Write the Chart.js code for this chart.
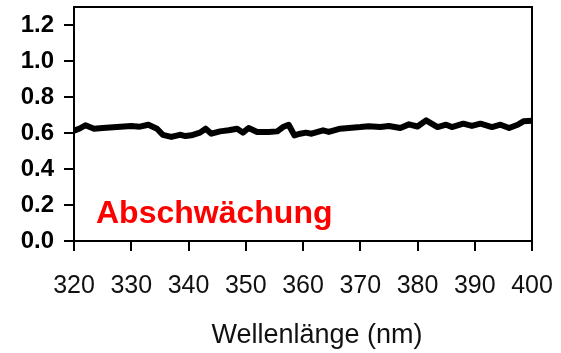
<!DOCTYPE html>
<html>
<head>
<meta charset="utf-8">
<script src="https://cdn.jsdelivr.net/npm/chart.js@4/dist/chart.umd.min.js"></script>
<style>
  html, body { margin: 0; padding: 0; background: #fff; }
  #wrap { width: 561px; height: 353px; }
</style>
</head>
<body>
<div id="wrap"><canvas id="absChart" width="561" height="353"></canvas></div>
<script>
// wavelength (nm) and attenuation
const wavelengths = [320, 321, 322, 323.5, 325, 327.5, 330, 331.5, 333, 334.5, 335.5, 337, 338.5, 339.5,
  340.5, 342, 343, 344, 345.5, 347, 348.5, 349.5, 350.5, 352, 354, 355.5, 356.5, 357.5, 358.5, 359.5,
  360.5, 361.5, 363.5, 364.5, 366.5, 368, 370, 371.5, 373.5, 375, 377, 378.5, 380, 381.5, 383.5, 385,
  386, 388, 389.5, 391, 393, 394.5, 396, 397.5, 398.5, 400];
const attenuation = [0.612, 0.625, 0.643, 0.624, 0.628, 0.633, 0.639, 0.635, 0.646, 0.624, 0.590, 0.578, 0.590, 0.583,
  0.587, 0.602, 0.624, 0.596, 0.609, 0.615, 0.624, 0.602, 0.628, 0.606, 0.606, 0.609, 0.633, 0.646, 0.587, 0.596,
  0.602, 0.596, 0.615, 0.606, 0.624, 0.628, 0.633, 0.638, 0.633, 0.639, 0.628, 0.648, 0.636, 0.670, 0.633, 0.646,
  0.633, 0.652, 0.639, 0.652, 0.633, 0.646, 0.628, 0.646, 0.665, 0.668];
const xTickStart = 320, xTickEnd = 400, xTickStep = 10;
const yTicks = [0, 0.2, 0.4, 0.6, 0.8, 1.0, 1.2];
const yMax = 1.3;
const xTitle = "Wellenlänge (nm)";
const panelLabel = "Abschwächung";

const points = wavelengths.map((w, i) => ({x: w, y: attenuation[i]}));

// top + right frame lines, the red label inside the plot and the x title
const framePlugin = {
  id: 'frame',
  afterDraw(chart) {
    const a = chart.chartArea;
    const ctx = chart.ctx;
    ctx.save();
    ctx.strokeStyle = '#000';
    ctx.lineWidth = 2;
    ctx.beginPath();
    ctx.moveTo(a.left, a.top);
    ctx.lineTo(a.right, a.top);
    ctx.lineTo(a.right, a.bottom);
    ctx.stroke();
    ctx.textBaseline = 'alphabetic';
    ctx.fillStyle = '#ff0000';
    ctx.font = 'bold 32px "Liberation Sans", Arial, sans-serif';
    ctx.fillText(panelLabel, a.left + 22, a.bottom - 18);
    // x title sits a bit right of the plot centre in the original
    ctx.fillStyle = '#111';
    ctx.font = '27px "Liberation Sans", Arial, sans-serif';
    ctx.textAlign = 'center';
    ctx.fillText(xTitle, (a.left + a.right) / 2 + 14, a.bottom + 102);
    ctx.restore();
  }
};

var ctx = document.getElementById('absChart').getContext('2d');
var chart = new Chart(ctx, {
  type: 'line',
  data: {
    datasets: [{
      data: points,
      borderColor: '#000',
      backgroundColor: '#000',
      borderWidth: 6,
      borderJoinStyle: 'round',
      pointRadius: 0,
      tension: 0,
      fill: false
    }]
  },
  options: {
    responsive: false,
    animation: false,
    layout: { padding: { top: 7, right: 29, left: 0, bottom: 0 } },
    plugins: { legend: { display: false }, tooltip: { enabled: false } },
    scales: {
      x: {
        type: 'linear',
        min: xTickStart,
        max: xTickEnd,
        afterFit: (s) => { s.height = 112; s.paddingLeft = 0; s.paddingRight = 0; },
        border: { color: '#000', width: 2 },
        grid: { drawOnChartArea: false, drawTicks: true, tickLength: 10, color: '#000', lineWidth: 2 },
        ticks: {
          stepSize: xTickStep,
          color: '#111',
          padding: 20,
          maxRotation: 0,
          font: { family: '"Liberation Sans", Arial, sans-serif', size: 25 }
        }
      },
      y: {
        min: 0,
        max: yMax,
        afterFit: (s) => { s.width = 74; s.paddingTop = 0; s.paddingBottom = 0; },
        afterBuildTicks: (s) => {
          s.ticks = yTicks.map(v => ({value: v}));
        },
        border: { color: '#000', width: 2 },
        grid: { drawOnChartArea: false, drawTicks: true, tickLength: 10, color: '#000', lineWidth: 2 },
        ticks: {
          color: '#000',
          padding: 10,
          callback: (v) => Number(v).toFixed(1),
          font: { family: '"Liberation Sans", Arial, sans-serif', size: 24, weight: 'bold' }
        }
      }
    }
  },
  plugins: [framePlugin]
});
</script>
</body>
</html>
